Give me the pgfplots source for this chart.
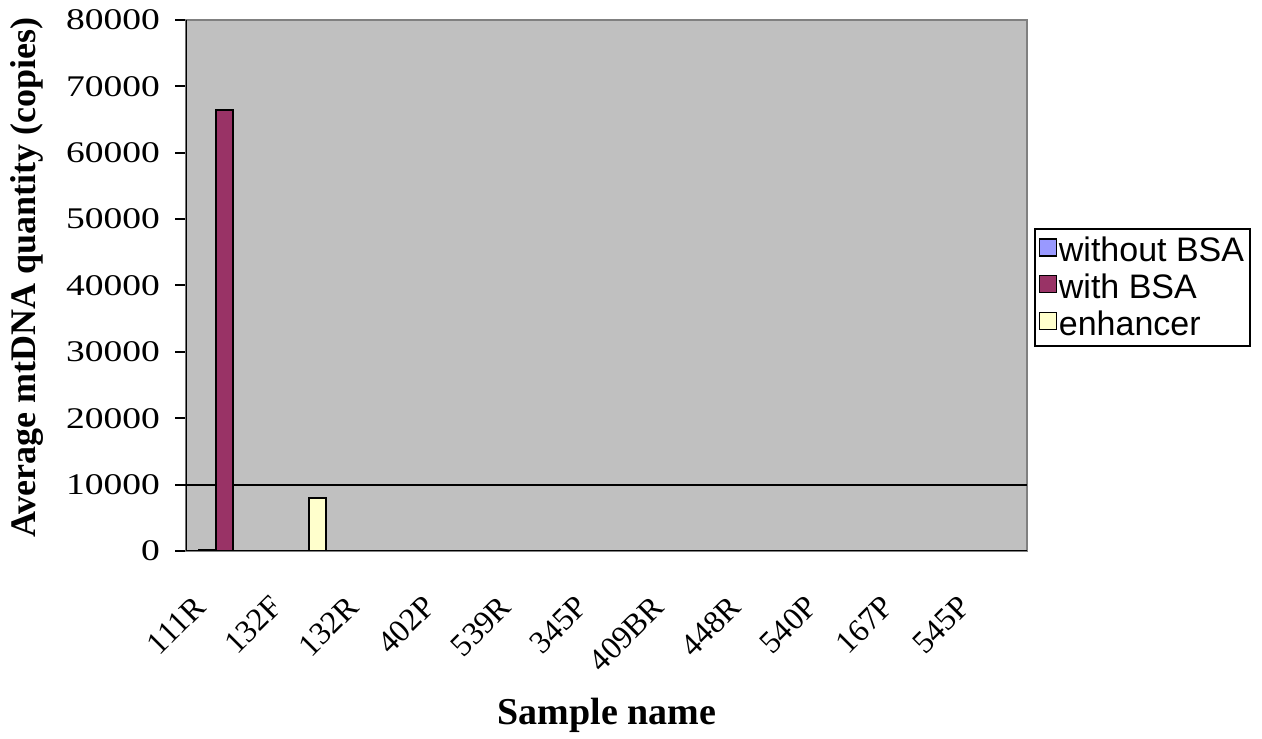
\documentclass[border=0pt]{standalone}
\usepackage{fontspec}
\setmainfont{Liberation Serif}
\newfontfamily\tickfont[FakeStretch=1.25]{Liberation Serif}
\newfontfamily\legfont{Liberation Sans}
\usepackage{pgfplots}
\pgfplotsset{compat=1.18}
\definecolor{plotbg}{HTML}{C0C0C0}
\definecolor{cwo}{HTML}{9999FF}
\definecolor{cwi}{HTML}{993366}
\definecolor{cen}{HTML}{FFFFCC}
\begin{document}
\begin{tikzpicture}
\begin{axis}[name=ax, at={(0,0)}, anchor=south west,
  scale only axis, width=420.5pt, height=265.5pt,
  xmin=-0.5, xmax=10.5, ymin=0, ymax=80000,
  ybar=0pt, bar width=8.5pt,
  axis background/.style={fill=plotbg},
  axis line style={draw=gray, line width=1pt},
  /pgf/number format/assume math mode=true,
  /pgf/number format/1000 sep={},
  scaled y ticks=false,
  ytick={0,10000,...,80000},
  ytick pos=left, xtick pos=bottom,
  tick align=outside,
  major tick length=5.5pt,
  every tick/.style={black, line width=1pt},
  xtick={0,...,10},
  xticklabels={111R,132F,132R,402P,539R,345P,409BR,448R,540P,167P,545P},
  x tick style={draw=none},
  minor xtick={-0.5,0.5,...,10.5},
  minor tick length=5.5pt,
  minor x tick style={black, line width=1pt},
  extra y ticks={10000},
  extra y tick labels={},
  extra y tick style={grid=major, major grid style={black, line width=1pt}},
  yticklabel style={font=\tickfont\fontsize{15}{15}\selectfont, xshift=-4pt},
  xticklabel style={font=\fontsize{16}{16}\selectfont, xshift=-16pt, yshift=-11pt, rotate=45, anchor=north east},
  ylabel={Average mtDNA quantity (copies)},
  xlabel={Sample name},
  ylabel style={font=\bfseries\fontsize{18}{18}\selectfont, at={(axis description cs:-0.189,0.515)}, anchor=center},
  xlabel style={font=\bfseries\fontsize{19}{19}\selectfont, at={(axis description cs:0.5006,-0.309)}, anchor=center},
  legend style={at={(1.008,0.608)}, anchor=north west, draw=black, line width=1pt, fill=white,
    font=\legfont\fontsize{17}{17}\selectfont, legend cell align=left, inner sep=2pt, row sep=0.5pt,
    nodes={inner xsep=1pt}},
  legend image code/.code={\draw[#1, line width=0.6pt] (0pt,-2.5pt) rectangle (8.5pt,6pt);},
]
\addplot[fill=cwo, draw=black, line width=1pt] coordinates {(0,150) (1,0) (2,0) (3,0) (4,0) (5,0) (6,0) (7,0) (8,0) (9,0) (10,0)};
\addplot[fill=cwi, draw=black, line width=1pt] coordinates {(0,66500) (1,0) (2,0) (3,0) (4,0) (5,0) (6,0) (7,0) (8,0) (9,0) (10,0)};
\addplot[fill=cen, draw=black, line width=1pt] coordinates {(0,0) (1,8000) (2,0) (3,0) (4,0) (5,0) (6,0) (7,0) (8,0) (9,0) (10,0)};
\legend{without BSA, with BSA, enhancer}
\draw[black, line width=1pt] (rel axis cs:0,1) -- (rel axis cs:0,0) -- (rel axis cs:1,0);
\end{axis}
\path ([shift={(-93pt,-91pt)}]ax.south west) rectangle ([shift={(117.5pt,10pt)}]ax.north east);
\end{tikzpicture}
\end{document}
